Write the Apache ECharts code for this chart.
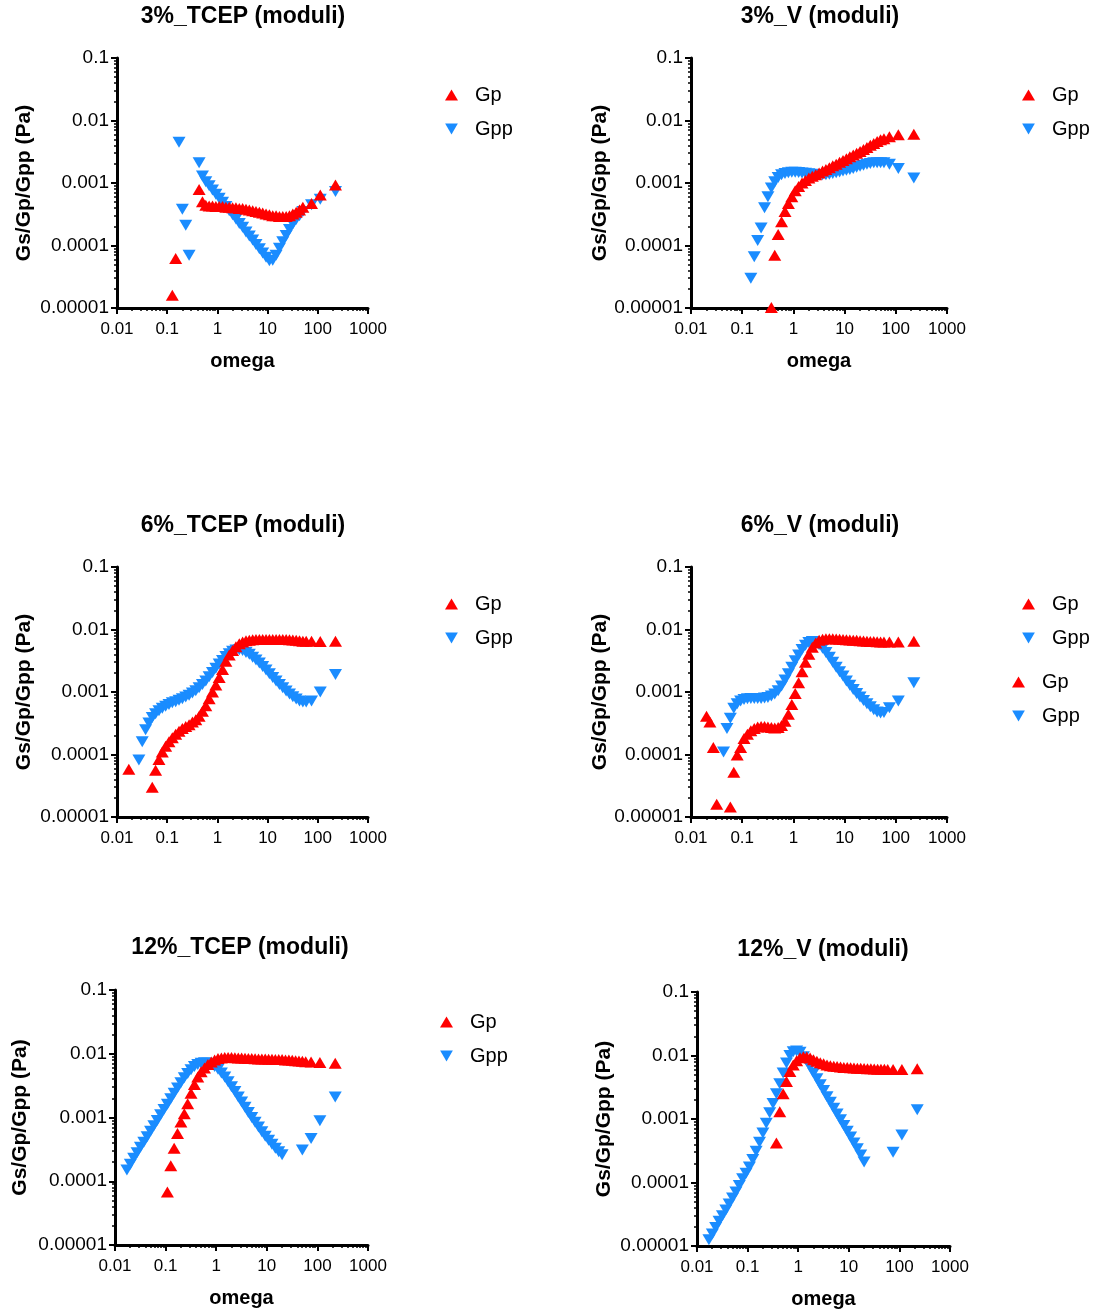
<!DOCTYPE html>
<html>
<head>
<meta charset="UTF-8">
<title>moduli</title>
<script src="https://cdn.jsdelivr.net/npm/echarts@6.0.0/dist/echarts.min.js"></script>
<style>
  body { margin: 0; background: #fff; }
  #chart { width: 1095px; height: 1312px; }
</style>
</head>
<body>
<div id="chart"></div>
<script>
// frequency grid shared by all sweeps (rad/s)
const OMEGA = [
  0.0172, 0.0201, 0.0234, 0.0273, 0.0318, 0.0371, 0.0432, 0.0504, 0.0587, 0.0685,
  0.0798, 0.0931, 0.1085, 0.1265, 0.1475, 0.172, 0.2005, 0.234, 0.273, 0.318,
  0.371, 0.432, 0.504, 0.587, 0.685, 0.798, 0.931, 1.085, 1.265, 1.475,
  1.72, 2.005, 2.34, 2.73, 3.18, 3.71, 4.32, 5.04, 5.87, 6.85,
  7.98, 9.31, 10.85, 12.65, 14.75, 17.2, 20.05, 23.4, 27.3, 31.8,
  37.1, 43.2, 50.4, 58.7, 75, 112, 225
]

const X_TICKS = ['0.01', '0.1', '1', '10', '100', '1000']
const Y_TICKS = ['0.00001', '0.0001', '0.001', '0.01', '0.1']
const TITLES = ['3%_TCEP (moduli)', '3%_V (moduli)', '6%_TCEP (moduli)', '6%_V (moduli)', '12%_TCEP (moduli)', '12%_V (moduli)']

// 3% TCEP
const GP_3_TCEP = [
  null, null, null, null, null, null, null, null, null, null,
  null, null, null, 1.6e-5, 6.2e-5, null, null, null, null, null,
  null, 7.9e-4, 5.0e-4, 4.4e-4, 4.3e-4, 4.3e-4, 4.2e-4, 4.2e-4, 4.2e-4, 4.1e-4,
  4.1e-4, 4.0e-4, 4.0e-4, 3.9e-4, 3.9e-4, 3.8e-4, 3.7e-4, 3.6e-4, 3.5e-4, 3.4e-4,
  3.3e-4, 3.2e-4, 3.1e-4, 3.0e-4, 3.0e-4, 2.9e-4, 2.9e-4, 2.9e-4, 3.0e-4, 3.2e-4,
  3.4e-4, 3.7e-4, 4.1e-4, null, 4.7e-4, 6.4e-4, 9.3e-4
]
const GPP_3_TCEP = [
  null, null, null, null, null, null, null, null, null, null,
  null, null, null, null, null, 4.5e-3, 3.8e-4, 2.1e-4, 7.0e-5, null,
  null, 2.1e-3, 1.3e-3, 1.05e-3, 9.0e-4, 7.7e-4, 6.6e-4, 5.7e-4, 4.9e-4, 4.2e-4,
  3.6e-4, 3.1e-4, 2.65e-4, 2.25e-4, 1.95e-4, 1.65e-4, 1.42e-4, 1.22e-4, 1.04e-4, 8.9e-5,
  7.6e-5, 6.5e-5, 5.7e-5, 5.8e-5, 7.0e-5, 9.0e-5, 1.15e-4, 1.45e-4, 1.8e-4, 2.2e-4,
  2.6e-4, 3.0e-4, 3.5e-4, null, 4.5e-4, 5.5e-4, 7.3e-4
]

// 3% V
const GP_3_V = [
  null, null, null, null, null, null, null, null, null, null,
  null, null, null, null, null, null, null, null, null, null,
  1.02e-5, 7.0e-5, 1.5e-4, 2.4e-4, 3.5e-4, 4.7e-4, 6.0e-4, 7.5e-4, 8.8e-4, 1.0e-3,
  1.1e-3, 1.2e-3, 1.28e-3, 1.36e-3, 1.45e-3, 1.55e-3, 1.65e-3, 1.76e-3, 1.88e-3, 2.0e-3,
  2.15e-3, 2.3e-3, 2.45e-3, 2.62e-3, 2.8e-3, 3.0e-3, 3.2e-3, 3.45e-3, 3.7e-3, 4.0e-3,
  4.3e-3, 4.6e-3, 4.9e-3, 5.1e-3, 5.5e-3, 5.9e-3, 6.0e-3
]
const GPP_3_V = [
  null, null, null, null, null, null, null, null, null, null,
  null, null, null, null, 3.0e-5, 6.6e-5, 1.2e-4, 1.9e-4, 4.0e-4, 6.0e-4,
  8.3e-4, 1.05e-3, 1.22e-3, 1.35e-3, 1.42e-3, 1.46e-3, 1.48e-3, 1.48e-3, 1.47e-3, 1.45e-3,
  1.43e-3, 1.4e-3, 1.38e-3, 1.36e-3, 1.35e-3, 1.35e-3, 1.36e-3, 1.38e-3, 1.42e-3, 1.46e-3,
  1.5e-3, 1.55e-3, 1.6e-3, 1.65e-3, 1.7e-3, 1.78e-3, 1.85e-3, 1.92e-3, 2.0e-3, 2.05e-3,
  2.1e-3, 2.1e-3, 2.1e-3, 2.1e-3, 2.0e-3, 1.7e-3, 1.2e-3
]

// 6% TCEP
const GP_6_TCEP = [
  5.8e-5, null, null, null, null, null, null, 3.0e-5, 5.6e-5, 8.3e-5,
  1.1e-4, 1.35e-4, 1.6e-4, 1.85e-4, 2.1e-4, 2.35e-4, 2.6e-4, 2.8e-4, 3.0e-4, 3.3e-4,
  3.6e-4, 4.1e-4, 4.9e-4, 6.0e-4, 7.8e-4, 1.0e-3, 1.3e-3, 1.7e-3, 2.3e-3, 3.1e-3,
  3.9e-3, 4.6e-3, 5.3e-3, 5.9e-3, 6.3e-3, 6.6e-3, 6.75e-3, 6.85e-3, 6.9e-3, 6.9e-3,
  6.9e-3, 6.9e-3, 6.9e-3, 6.9e-3, 6.9e-3, 6.9e-3, 6.9e-3, 6.9e-3, 6.85e-3, 6.8e-3,
  6.7e-3, 6.6e-3, 6.5e-3, 6.5e-3, 6.5e-3, 6.4e-3, 6.5e-3
]
const GPP_6_TCEP = [
  null, null, null, 8.2e-5, 1.6e-4, 2.5e-4, 3.2e-4, 3.9e-4, 4.5e-4, 5.0e-4,
  5.5e-4, 5.9e-4, 6.3e-4, 6.7e-4, 7.0e-4, 7.4e-4, 7.8e-4, 8.3e-4, 8.9e-4, 9.6e-4,
  1.05e-3, 1.17e-3, 1.32e-3, 1.5e-3, 1.75e-3, 2.05e-3, 2.4e-3, 2.8e-3, 3.2e-3, 3.7e-3,
  4.1e-3, 4.5e-3, 4.7e-3, 4.75e-3, 4.6e-3, 4.3e-3, 4.0e-3, 3.6e-3, 3.25e-3, 2.9e-3,
  2.55e-3, 2.25e-3, 1.95e-3, 1.7e-3, 1.5e-3, 1.32e-3, 1.17e-3, 1.04e-3, 9.3e-4, 8.4e-4,
  7.7e-4, 7.2e-4, 6.9e-4, 6.9e-4, 7.2e-4, 1.0e-3, 1.9e-3
]

// 6% V
const GP_6_V = [
  null, 4.1e-4, 3.3e-4, 1.3e-4, 1.6e-5, null, null, null, 1.45e-5, 5.2e-5,
  9.8e-5, 1.3e-4, 1.8e-4, 2.1e-4, 2.4e-4, 2.6e-4, 2.75e-4, 2.8e-4, 2.8e-4, 2.75e-4,
  2.7e-4, 2.65e-4, 2.7e-4, 2.9e-4, 3.4e-4, 4.4e-4, 6.3e-4, 9.5e-4, 1.4e-3, 2.1e-3,
  3.0e-3, 4.0e-3, 5.2e-3, 6.1e-3, 6.7e-3, 7.0e-3, 7.1e-3, 7.1e-3, 7.1e-3, 7.05e-3,
  7.0e-3, 6.9e-3, 6.85e-3, 6.8e-3, 6.75e-3, 6.7e-3, 6.6e-3, 6.55e-3, 6.5e-3, 6.45e-3,
  6.4e-3, 6.35e-3, 6.3e-3, 6.3e-3, 6.3e-3, 6.3e-3, 6.5e-3
]
const GPP_6_V = [
  null, null, null, null, null, null, 1.1e-4, 2.6e-4, 3.8e-4, 5.5e-4,
  6.5e-4, 7.2e-4, 7.6e-4, 7.8e-4, 7.9e-4, 7.9e-4, 7.9e-4, 7.9e-4, 8.0e-4, 8.2e-4,
  8.6e-4, 9.3e-4, 1.05e-3, 1.25e-3, 1.55e-3, 1.95e-3, 2.5e-3, 3.15e-3, 3.9e-3, 4.8e-3,
  5.6e-3, 6.2e-3, 6.4e-3, 6.2e-3, 5.7e-3, 5.0e-3, 4.3e-3, 3.6e-3, 3.0e-3, 2.5e-3,
  2.1e-3, 1.8e-3, 1.5e-3, 1.28e-3, 1.1e-3, 9.5e-4, 8.3e-4, 7.3e-4, 6.5e-4, 5.8e-4,
  5.2e-4, 4.8e-4, 4.6e-4, 4.7e-4, 5.6e-4, 7.2e-4, 1.4e-3
]

// 12% TCEP
const GP_12_TCEP = [
  null, null, null, null, null, null, null, null, null, null,
  null, null, 6.8e-5, 1.75e-4, 3.3e-4, 5.6e-4, 8.5e-4, 1.15e-3, 1.65e-3, 2.4e-3,
  3.3e-3, 4.3e-3, 5.2e-3, 6.0e-3, 6.8e-3, 7.4e-3, 8.0e-3, 8.4e-3, 8.6e-3, 8.7e-3,
  8.7e-3, 8.7e-3, 8.65e-3, 8.6e-3, 8.55e-3, 8.5e-3, 8.45e-3, 8.4e-3, 8.35e-3, 8.3e-3,
  8.3e-3, 8.25e-3, 8.2e-3, 8.2e-3, 8.15e-3, 8.1e-3, 8.1e-3, 8.0e-3, 8.0e-3, 7.9e-3,
  7.8e-3, 7.7e-3, 7.6e-3, 7.5e-3, 7.4e-3, 7.3e-3, 7.1e-3
]
const GPP_12_TCEP = [
  1.5e-4, 1.85e-4, 2.3e-4, 2.8e-4, 3.4e-4, 4.1e-4, 5.0e-4, 6.1e-4, 7.4e-4, 9.0e-4,
  1.1e-3, 1.33e-3, 1.62e-3, 1.97e-3, 2.4e-3, 2.9e-3, 3.5e-3, 4.2e-3, 4.9e-3, 5.6e-3,
  6.3e-3, 6.8e-3, 7.1e-3, 7.2e-3, 7.1e-3, 6.8e-3, 6.3e-3, 5.7e-3, 5.0e-3, 4.3e-3,
  3.65e-3, 3.05e-3, 2.55e-3, 2.1e-3, 1.75e-3, 1.45e-3, 1.2e-3, 1.0e-3, 8.4e-4, 7.1e-4,
  6.0e-4, 5.1e-4, 4.4e-4, 3.8e-4, 3.3e-4, 2.9e-4, 2.6e-4, null, null, null,
  null, null, 3.1e-4, null, 4.7e-4, 8.9e-4, 2.1e-3
]

// 12% V
const GP_12_V = [
  null, null, null, null, null, null, null, null, null, null,
  null, null, null, null, null, null, null, null, null, null,
  4.2e-4, 1.3e-3, 2.5e-3, 3.9e-3, 5.6e-3, 7.1e-3, 8.3e-3, 9.2e-3, 9.6e-3, 9.5e-3,
  9.1e-3, 8.6e-3, 8.1e-3, 7.7e-3, 7.4e-3, 7.1e-3, 6.9e-3, 6.8e-3, 6.7e-3, 6.6e-3,
  6.5e-3, 6.45e-3, 6.4e-3, 6.35e-3, 6.3e-3, 6.3e-3, 6.25e-3, 6.2e-3, 6.2e-3, 6.15e-3,
  6.1e-3, 6.1e-3, 6.05e-3, 6.0e-3, 6.0e-3, 6.0e-3, 6.2e-3
]
const GPP_12_V = [
  1.25e-5, 1.55e-5, 1.95e-5, 2.45e-5, 3.0e-5, 3.7e-5, 4.6e-5, 5.7e-5, 7.1e-5, 9.0e-5,
  1.15e-4, 1.4e-4, 1.75e-4, 2.3e-4, 3.1e-4, 4.3e-4, 6.0e-4, 8.6e-4, 1.25e-3, 1.75e-3,
  2.5e-3, 3.6e-3, 5.3e-3, 7.6e-3, 1.0e-2, 1.15e-2, 1.18e-2, 1.12e-2, 9.6e-3, 8.1e-3,
  6.6e-3, 5.3e-3, 4.3e-3, 3.45e-3, 2.8e-3, 2.25e-3, 1.83e-3, 1.48e-3, 1.2e-3, 9.7e-4,
  7.9e-4, 6.4e-4, 5.2e-4, 4.2e-4, 3.4e-4, 2.7e-4, 2.1e-4, null, null, null,
  null, null, null, null, 3.0e-4, 5.6e-4, 1.4e-3
]

const FONT = '"Liberation Sans", Arial, sans-serif'
const RED = '#ff0000'
const BLUE = '#1a8cff'
const DOWN = 'path://M0,0L10,0L5,8.66Z'

// panel layout (pixels)
const PANELS = [
  { gp: GP_3_TCEP, gpp: GPP_3_TCEP, grid: { left: 117, top: 58, width: 251, height: 250 }, tx: 243, ty: 5, omega: true, nameGap: 82 },
  { gp: GP_3_V, gpp: GPP_3_V, grid: { left: 691, top: 58, width: 256, height: 250 }, tx: 820, ty: 5, omega: true, nameGap: 78 },
  { gp: GP_6_TCEP, gpp: GPP_6_TCEP, grid: { left: 117, top: 567, width: 251, height: 250 }, tx: 243, ty: 514, omega: false, nameGap: 82 },
  { gp: GP_6_V, gpp: GPP_6_V, grid: { left: 691, top: 567, width: 256, height: 250 }, tx: 820, ty: 514, omega: false, nameGap: 78 },
  { gp: GP_12_TCEP, gpp: GPP_12_TCEP, grid: { left: 115, top: 990, width: 253, height: 255 }, tx: 240, ty: 936, omega: true, nameGap: 84 },
  { gp: GP_12_V, gpp: GPP_12_V, grid: { left: 697, top: 992, width: 253, height: 254 }, tx: 823, ty: 938, omega: true, nameGap: 82 }
]

// legend boxes: [left, top]
const LEGENDS = [[440, 80], [1017, 80], [440, 589], [1017, 589], [1007, 667], [435, 1007]]

function pts(vals) {
  return OMEGA.map((w, i) => vals[i] == null ? null : [w, vals[i]]).filter(Boolean)
}

const axisLine = { lineStyle: { color: '#000', width: 3 } }
const nameStyle = { color: '#000', fontSize: 20, fontWeight: 'bold', fontFamily: FONT }

const grid = PANELS.map(p => p.grid)
const title = PANELS.map((p, i) => ({
  text: TITLES[i],
  left: p.tx,
  top: p.ty,
  textAlign: 'center',
  padding: 0,
  textStyle: { color: '#000', fontSize: 23, fontWeight: 'bold', fontFamily: FONT }
}))

const xAxis = PANELS.map((p, i) => ({
  type: 'log',
  logBase: 10,
  gridIndex: i,
  min: 0.01,
  max: 1000,
  splitNumber: 5,
  name: p.omega ? 'omega' : '',
  nameLocation: 'middle',
  nameGap: 43,
  nameTextStyle: nameStyle,
  axisLine,
  axisTick: { length: 6, lineStyle: { color: '#000', width: 2 } },
  minorTick: { show: true, splitNumber: 9, length: 3, lineStyle: { color: '#000', width: 1.5 } },
  splitLine: { show: false },
  axisLabel: { color: '#000', fontSize: 17, fontFamily: FONT, margin: 13, formatter: v => X_TICKS[Math.round(Math.log10(v)) + 2] }
}))

const yAxis = PANELS.map((p, i) => ({
  type: 'log',
  logBase: 10,
  gridIndex: i,
  min: 0.00001,
  max: 0.1,
  splitNumber: 4,
  name: 'Gs/Gp/Gpp (Pa)',
  nameLocation: 'middle',
  nameGap: p.nameGap,
  nameTextStyle: { ...nameStyle, fontSize: 21 },
  axisLine,
  axisTick: { length: 6, lineStyle: { color: '#000', width: 2 } },
  minorTick: { show: true, splitNumber: 9, length: 3, lineStyle: { color: '#000', width: 1.5 } },
  splitLine: { show: false },
  axisLabel: { color: '#000', fontSize: 19, fontFamily: FONT, margin: 8, formatter: v => Y_TICKS[Math.round(Math.log10(v)) + 5] }
}))

const series = []
PANELS.forEach((p, i) => {
  series.push({
    name: 'Gpp', type: 'scatter', xAxisIndex: i, yAxisIndex: i,
    symbol: DOWN, symbolSize: [13, 11],
    itemStyle: { color: BLUE, opacity: 1 },
    data: pts(p.gpp)
  })
  series.push({
    name: 'Gp', type: 'scatter', xAxisIndex: i, yAxisIndex: i,
    symbol: 'triangle', symbolSize: [13, 11],
    itemStyle: { color: RED, opacity: 1 },
    data: pts(p.gp)
  })
})

const legend = LEGENDS.map(([left, top]) => ({
  left, top,
  orient: 'vertical',
  selectedMode: false,
  itemWidth: 13,
  itemHeight: 11,
  itemGap: 14,
  textStyle: { color: '#000', fontSize: 20, fontFamily: FONT, padding: [0, 0, 0, 12] },
  data: [{ name: 'Gp', icon: 'triangle' }, { name: 'Gpp', icon: DOWN }]
}))

const chart = echarts.init(document.getElementById('chart'), null, { renderer: 'canvas' })
chart.setOption({
  backgroundColor: '#fff',
  animation: false,
  title, grid, xAxis, yAxis, legend, series
})
</script>
</body>
</html>
